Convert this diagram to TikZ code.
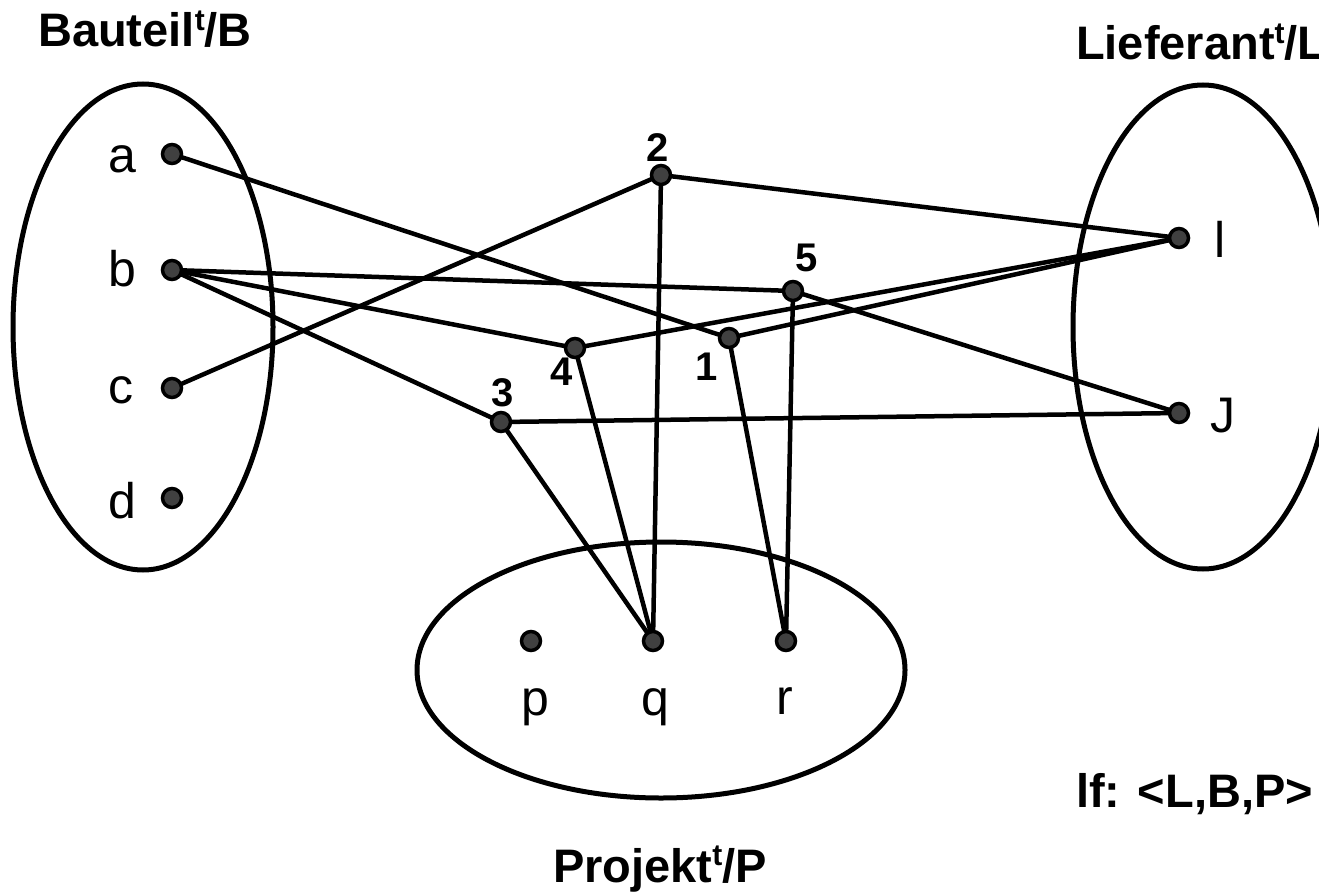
\documentclass[tikz,border=0pt]{standalone}
\usepackage{fontspec}
\setmainfont{Liberation Sans}
\pgfdeclarelayer{bg}
\pgfsetlayers{bg,main}
\newcommand{\supt}{\raisebox{0.36em}{\fontsize{30}{32}\selectfont t}}
\tikzset{
  dot/.style={circle,draw=black,fill=black!75,line width=3.5pt,minimum size=19pt,inner sep=0pt},
  edge/.style={draw=black,line width=4.5pt},
  set/.style={draw=black,line width=5pt},
  elem/.style={inner sep=0pt,anchor=base,font=\fontsize{50}{54}\selectfont},
  num/.style={inner sep=0pt,anchor=base,font=\fontsize{40}{44}\selectfont\bfseries},
  title/.style={inner sep=0pt,font=\fontsize{47}{50}\selectfont\bfseries}
}
\begin{document}
\begin{tikzpicture}[x=1pt,y=-1pt]
\useasboundingbox (0,0) rectangle (1319,893);
% sets
\draw[set] (143,327) ellipse [x radius=130,y radius=243];
\draw[set] (1203,327) ellipse [x radius=130,y radius=242];
\draw[set] (661,670) ellipse [x radius=244,y radius=128];
% titles
\node[title,anchor=base west] (tB) at (38,47) {Bauteil\supt/B};
\node[title,anchor=base west] (tL) at (1076,60) {Lieferant\supt/L};
\node[title,anchor=base] (tP) at (660,882) {Projekt\supt/P};
\node[title,anchor=base west] (tf) at (1076,807) {lf: <L,B,P>};
% element dots
\node[dot] (a) at (172,154) {};
\node[dot] (b) at (172,270) {};
\node[dot] (c) at (172,388) {};
\node[dot] (d) at (172,498) {};
\node[dot] (sI) at (1179,238) {};
\node[dot] (sJ) at (1179,413) {};
\node[dot] (p) at (531,641) {};
\node[dot] (q) at (653,641) {};
\node[dot] (r) at (786,641) {};
\node[dot] (n1) at (729,338) {};
\node[dot] (n2) at (661,175) {};
\node[dot] (n3) at (501,422) {};
\node[dot] (n4) at (575,348) {};
\node[dot] (n5) at (793,291) {};
% element labels
\node[elem] (la) at (122,173) {a};
\node[elem] (lb) at (122,287) {b};
\node[elem] (lc) at (121,403) {c};
\node[elem] (ld) at (122,518) {d};
\node[elem] (lI) at (1220,258) {l};
\node[elem] (lJ) at (1223,432) {J};
\node[elem] (lp) at (535,715) {p};
\node[elem] (lq) at (655,715) {q};
\node[elem] (lr) at (785,714) {r};
\node[num] (l1) at (707,380) {1};
\node[num] (l2) at (658,162) {2};
\node[num] (l3) at (503,406) {3};
\node[num] (l4) at (562,385) {4};
\node[num] (l5) at (807,272) {5};
% connectors
\begin{pgfonlayer}{bg}
\draw[edge] (a.center) -- (n1.center);
\draw[edge] (n1.center) -- (sI.center);
\draw[edge] (n1.center) -- (r.center);
\draw[edge] (c.center) -- (n2.center);
\draw[edge] (n2.center) -- (sI.center);
\draw[edge] (n2.center) -- (q.center);
\draw[edge] (b.center) -- (n3.center);
\draw[edge] (n3.center) -- (sJ.center);
\draw[edge] (n3.center) -- (q.center);
\draw[edge] (b.center) -- (n4.center);
\draw[edge] (n4.center) -- (sI.center);
\draw[edge] (n4.center) -- (q.center);
\draw[edge] (b.center) -- (n5.center);
\draw[edge] (n5.center) -- (sJ.center);
\draw[edge] (n5.center) -- (r.center);
\end{pgfonlayer}
\end{tikzpicture}
\end{document}
